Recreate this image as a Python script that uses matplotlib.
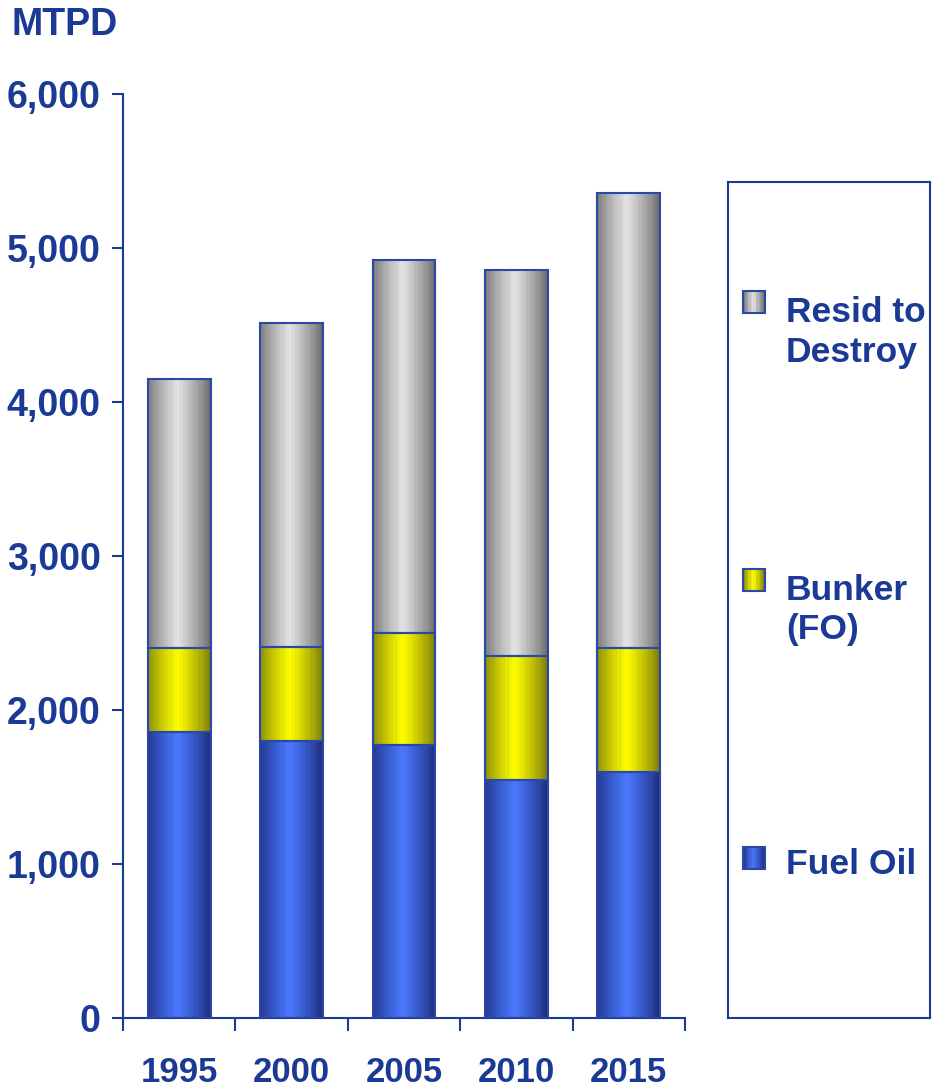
import numpy as np
import matplotlib.pyplot as plt
from matplotlib.colors import to_rgb
from matplotlib.patches import Rectangle

plt.rcParams['font.family'] = ['Liberation Sans', 'DejaVu Sans']
plt.rcParams['font.weight'] = 'bold'

# demand by year, MTPD
years = ['1995', '2000', '2005', '2010', '2015']
fuel_oil = [1860, 1800, 1770, 1545, 1600]
bunker = [540, 610, 730, 805, 800]
resid = [1750, 2100, 2420, 2510, 2960]

series_labels = ['Resid to\nDestroy', 'Bunker\n(FO)', 'Fuel Oil']
y_ticks = [0, 1000, 2000, 3000, 4000, 5000, 6000]

navy = '#1a3a96'
edge = '#2a48a8'

# dark edges, bright middle, banded like the old cylinder fills
shades = {
    'blue': ('#1c2c78', '#4a78ff'),
    'yellow': ('#77770c', '#ffff00'),
    'grey': ('#666666', '#e4e4e4'),
}


def band_fill(dark, light, n=120, bands=26):
    x = np.linspace(0, 1, n)
    t = 1 - np.abs(x - 0.47) / 0.53
    t = np.clip(t, 0, 1) ** 0.8
    t = np.floor(t * bands) / bands
    t = t + 0.04 * ((np.arange(n) // 3) % 2)
    t = np.clip(t, 0, 1)
    d, l = np.array(to_rgb(dark)), np.array(to_rgb(light))
    row = d[None, :] * (1 - t[:, None]) + l[None, :] * t[:, None]
    return row[None, :, :]


W, H = 932, 1088
fig = plt.figure(figsize=(W / 100, H / 100), dpi=100)
ax = fig.add_axes([123 / W, 1 - 1018 / H, (685 - 123) / W, (1018 - 94) / H])

x = np.arange(len(years))
bottoms = np.zeros(len(years))
for vals, key in [(fuel_oil, 'blue'), (bunker, 'yellow'), (resid, 'grey')]:
    bars = ax.bar(x, vals, width=0.56, bottom=bottoms, facecolor='none',
                  edgecolor=edge, linewidth=1.5, zorder=3)
    img = band_fill(*shades[key])
    for b in bars:
        x0, y0 = b.get_x(), b.get_y()
        im = ax.imshow(img, extent=[x0, x0 + b.get_width(), y0, y0 + b.get_height()],
                       aspect='auto', zorder=2, interpolation='nearest')
        im.set_clip_path(b)
    bottoms += np.array(vals)

ax.set_xlim(-0.5, len(years) - 0.5)
ax.set_ylim(0, 6000)
ax.set_yticks(y_ticks)
ax.set_yticklabels([f'{v:,}' for v in y_ticks])
ax.set_xticks(x)
ax.set_xticklabels(years)
ax.set_xticks(np.arange(len(years) + 1) - 0.5, minor=True)

for s in ['top', 'right']:
    ax.spines[s].set_visible(False)
for s in ['left', 'bottom']:
    ax.spines[s].set_color(navy)
    ax.spines[s].set_linewidth(1.5)

ax.tick_params(axis='y', direction='out', length=8, width=1.5, color=navy,
               pad=8, labelsize=27, labelcolor=navy)
ax.tick_params(axis='x', which='major', length=0, pad=27,
               labelsize=25, labelcolor=navy)
ax.tick_params(axis='x', which='minor', direction='out', length=9,
               width=1.5, color=navy)

fig.text(12 / W, 1 - 35 / H, 'MTPD', fontsize=27, color=navy,
         fontweight='bold', va='baseline')

# legend panel drawn in pixel units
lg = fig.add_axes([728 / W, 1 - 1018 / H, (930 - 728) / W, (1018 - 182) / H])
lg.set_xlim(728, 930)
lg.set_ylim(1018, 182)
lg.set_xticks([])
lg.set_yticks([])
for s in lg.spines.values():
    s.set_color(navy)
    s.set_linewidth(1.5)

# (label, fill, marker centre, baseline of last text line)
entries = [
    (series_labels[0], 'grey', 302, 362),
    (series_labels[1], 'yellow', 580, 639),
    (series_labels[2], 'blue', 858, 874),
]
for label, key, yc, base in entries:
    sq = Rectangle((743, yc - 11), 22, 22, facecolor='none',
                   edgecolor=edge, linewidth=1.5, zorder=3)
    lg.add_patch(sq)
    im = lg.imshow(band_fill(*shades[key], n=40, bands=10),
                   extent=[743, 765, yc + 11, yc - 11], aspect='auto',
                   zorder=2, interpolation='nearest')
    im.set_clip_path(sq)
    lg.text(786, base, label, fontsize=25.5, color=navy, fontweight='bold',
            va='baseline', ha='left', linespacing=1.25)
lg.set_xlim(728, 930)
lg.set_ylim(1018, 182)

fig.savefig('out.png', dpi=100)
